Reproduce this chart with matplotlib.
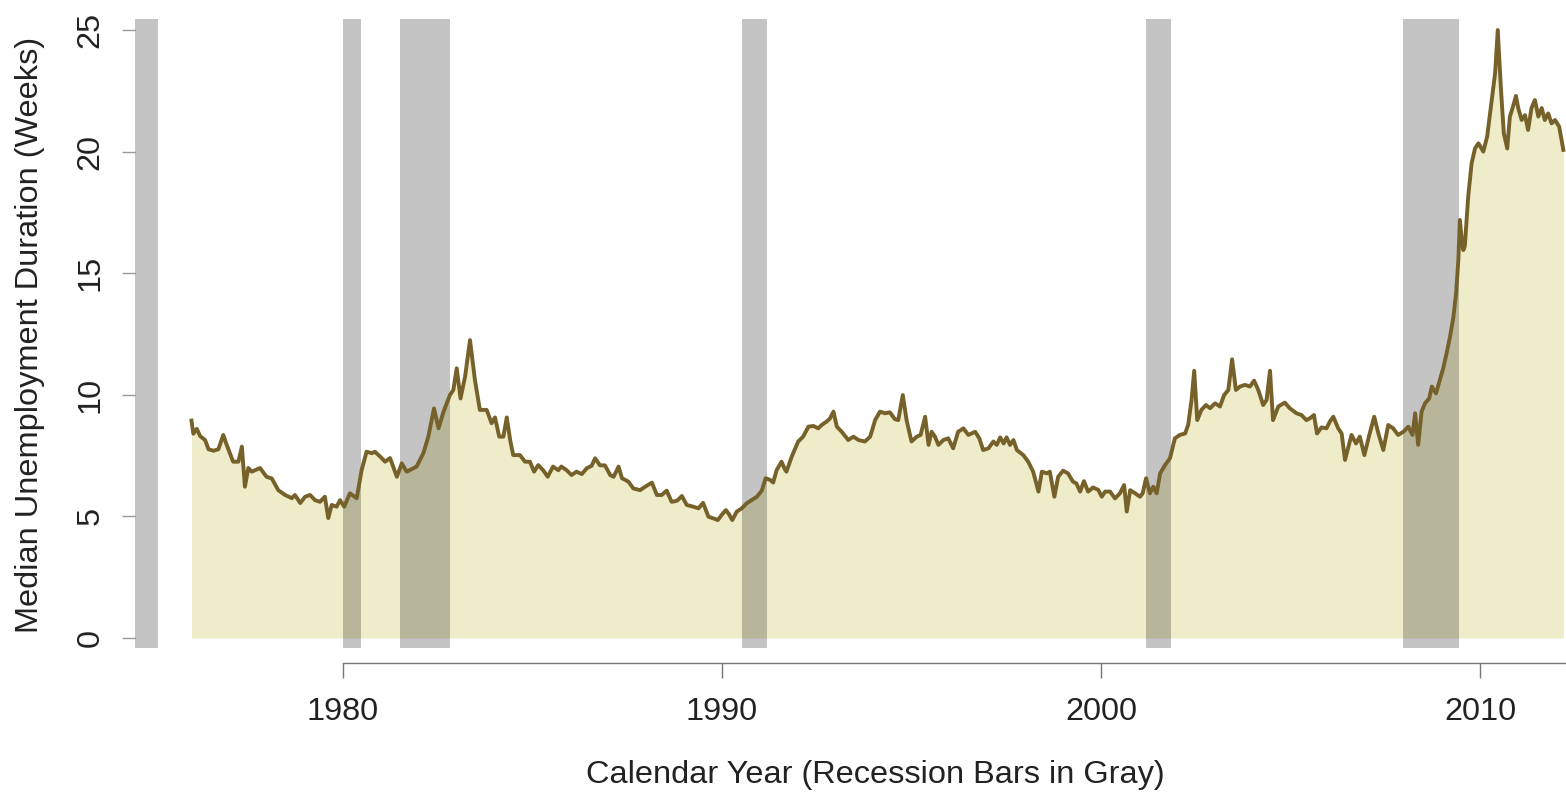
import numpy as np
import matplotlib.pyplot as plt

plt.rcParams['font.family'] = ['Liberation Sans', 'DejaVu Sans']

# median weeks of unemployment, read at irregular dates (decimal years)
years = [
    1976.00, 1976.05, 1976.14, 1976.23, 1976.36, 1976.45, 1976.58, 1976.71, 1976.84, 1976.93,
    1977.10, 1977.24, 1977.33, 1977.41, 1977.50, 1977.59, 1977.81, 1977.98, 1978.12, 1978.29,
    1978.47, 1978.65, 1978.73, 1978.87, 1979.00, 1979.13, 1979.26, 1979.39, 1979.52, 1979.61,
    1979.70, 1979.83, 1979.92, 1980.03, 1980.18, 1980.36, 1980.49, 1980.62, 1980.76, 1980.84,
    1980.98, 1981.11, 1981.24, 1981.42, 1981.55, 1981.68,
    1981.94, 1982.12, 1982.25, 1982.40, 1982.52, 1982.65, 1982.82, 1982.91, 1983.00, 1983.10,
    1983.22, 1983.35, 1983.48, 1983.61, 1983.79, 1983.92, 1984.01, 1984.12, 1984.23, 1984.32,
    1984.41, 1984.49, 1984.67, 1984.80, 1984.93, 1985.04, 1985.15, 1985.28, 1985.40, 1985.54,
    1985.68, 1985.76, 1985.90, 1986.03, 1986.16, 1986.30, 1986.43, 1986.56, 1986.65, 1986.78,
    1986.91, 1987.05, 1987.14, 1987.27, 1987.36, 1987.53, 1987.66,
    1987.84, 1987.97, 1988.15, 1988.28, 1988.41, 1988.54, 1988.67, 1988.81, 1988.94, 1989.07,
    1989.24, 1989.38, 1989.50, 1989.64, 1989.77, 1989.89, 1989.99, 1990.10, 1990.18, 1990.27,
    1990.39, 1990.52, 1990.65, 1990.78, 1990.92, 1991.05, 1991.15, 1991.27, 1991.35, 1991.44,
    1991.57, 1991.66, 1991.70, 1991.84, 1992.01, 1992.14, 1992.28, 1992.41, 1992.54, 1992.63,
    1992.76, 1992.85, 1992.94, 1993.03, 1993.16, 1993.33, 1993.47, 1993.60,
    1993.77, 1993.91, 1994.04, 1994.17, 1994.30, 1994.43, 1994.56, 1994.65, 1994.77, 1994.87,
    1995.00, 1995.14, 1995.24, 1995.36, 1995.45, 1995.53, 1995.62, 1995.71, 1995.84, 1995.97,
    1996.10, 1996.23, 1996.37, 1996.50, 1996.68, 1996.79, 1996.89, 1997.03, 1997.16, 1997.25,
    1997.34, 1997.43, 1997.51, 1997.60, 1997.69, 1997.78, 1997.95, 1998.08, 1998.21, 1998.35,
    1998.44, 1998.57, 1998.65, 1998.77, 1998.87, 1999.00, 1999.13, 1999.26, 1999.35, 1999.45,
    1999.55, 1999.66, 1999.79, 1999.93, 2000.02,
    2000.11, 2000.24, 2000.37, 2000.50, 2000.61, 2000.68, 2000.77, 2000.90, 2001.03, 2001.10,
    2001.19, 2001.29, 2001.38, 2001.47, 2001.56, 2001.69, 2001.82, 2001.95, 2002.08, 2002.22,
    2002.30, 2002.39, 2002.46, 2002.54, 2002.65, 2002.77, 2002.88, 2003.01, 2003.14, 2003.25,
    2003.36, 2003.46, 2003.56, 2003.67, 2003.80, 2003.93, 2004.04, 2004.15, 2004.28, 2004.37,
    2004.46, 2004.54, 2004.68, 2004.85, 2004.98, 2005.16, 2005.29, 2005.42, 2005.51, 2005.62,
    2005.70, 2005.82, 2005.95,
    2006.04, 2006.13, 2006.26, 2006.35, 2006.44, 2006.53, 2006.61, 2006.73, 2006.83, 2006.95,
    2007.08, 2007.21, 2007.32, 2007.45, 2007.58, 2007.71, 2007.84, 2007.98, 2008.11, 2008.22,
    2008.29, 2008.37, 2008.46, 2008.55, 2008.66, 2008.73, 2008.84, 2008.94, 2009.03, 2009.12,
    2009.21, 2009.30, 2009.37, 2009.43, 2009.47, 2009.52, 2009.56, 2009.60, 2009.69, 2009.78,
    2009.87, 2009.96, 2010.09, 2010.19, 2010.31, 2010.40, 2010.47, 2010.55, 2010.63, 2010.72,
    2010.79, 2010.86, 2010.95, 2011.01, 2011.10, 2011.19, 2011.27, 2011.36, 2011.45, 2011.54,
    2011.63, 2011.71, 2011.80, 2011.89, 2011.98, 2012.09, 2012.20,
]
weeks = [
    8.94, 8.40, 8.60, 8.30, 8.14, 7.76, 7.70, 7.76, 8.35, 7.94,
    7.25, 7.25, 7.87, 6.22, 6.99, 6.84, 6.99, 6.63, 6.56, 6.08,
    5.88, 5.75, 5.88, 5.55, 5.81, 5.88, 5.67, 5.60, 5.81, 4.93,
    5.47, 5.40, 5.67, 5.40, 5.95, 5.75, 6.90, 7.66, 7.60, 7.66,
    7.46, 7.25, 7.40, 6.63, 7.18, 6.84,
    7.05, 7.60, 8.28, 9.44, 8.62, 9.30, 9.99, 10.20, 11.09, 9.85,
    10.75, 12.25, 10.61, 9.38, 9.38, 8.83, 9.07, 8.28, 8.28, 9.07,
    8.14, 7.52, 7.52, 7.25, 7.25, 6.84, 7.11, 6.90, 6.63, 7.05,
    6.90, 7.05, 6.90, 6.70, 6.84, 6.74, 6.98, 7.08, 7.39, 7.10,
    7.10, 6.70, 6.63, 7.05, 6.57, 6.43, 6.15,
    6.08, 6.22, 6.39, 5.88, 5.88, 6.06, 5.60, 5.64, 5.84, 5.47,
    5.40, 5.33, 5.56, 4.99, 4.92, 4.85, 5.06, 5.26, 5.10, 4.85,
    5.20, 5.33, 5.54, 5.67, 5.81, 6.06, 6.57, 6.50, 6.39, 6.90,
    7.25, 6.93, 6.84, 7.46, 8.08, 8.28, 8.69, 8.72, 8.62, 8.76,
    8.90, 9.03, 9.31, 8.69, 8.48, 8.14, 8.28, 8.14,
    8.08, 8.28, 8.96, 9.31, 9.24, 9.28, 9.00, 8.96, 9.99, 8.96,
    8.08, 8.28, 8.35, 9.10, 7.94, 8.48, 8.28, 7.94, 8.14, 8.21,
    7.80, 8.48, 8.62, 8.35, 8.48, 8.21, 7.73, 7.80, 8.08, 7.94,
    8.25, 8.00, 8.25, 7.94, 8.14, 7.73, 7.52, 7.25, 6.84, 6.02,
    6.84, 6.77, 6.84, 5.81, 6.63, 6.88, 6.77, 6.43, 6.36, 6.02,
    6.45, 6.02, 6.19, 6.09, 5.81,
    6.02, 6.02, 5.74, 5.95, 6.29, 5.20, 6.08, 5.95, 5.81, 5.95,
    6.57, 5.95, 6.22, 5.95, 6.77, 7.11, 7.39, 8.21, 8.35, 8.41,
    8.76, 9.79, 10.99, 8.96, 9.38, 9.58, 9.45, 9.65, 9.52, 9.99,
    10.20, 11.46, 10.20, 10.34, 10.41, 10.34, 10.58, 10.20, 9.58, 9.79,
    10.99, 8.96, 9.52, 9.68, 9.45, 9.24, 9.17, 8.96, 9.03, 9.17,
    8.41, 8.66, 8.62,
    8.90, 9.10, 8.62, 8.41, 7.32, 7.87, 8.35, 8.00, 8.28, 7.52,
    8.35, 9.10, 8.41, 7.73, 8.76, 8.62, 8.35, 8.48, 8.69, 8.35,
    9.24, 7.94, 9.31, 9.65, 9.85, 10.34, 10.06, 10.61, 11.09, 11.71,
    12.39, 13.21, 14.17, 15.54, 17.19, 16.37, 15.95, 16.10, 18.15, 19.52,
    20.13, 20.34, 20.00, 20.62, 22.12, 23.22, 25.00, 22.67, 20.75, 20.13,
    21.44, 21.79, 22.29, 21.79, 21.30, 21.50, 20.89, 21.79, 22.12, 21.44,
    21.79, 21.30, 21.57, 21.16, 21.30, 21.03, 20.07,
]

# NBER recessions (start, end)
rec_start = [1973.83, 1980.00, 1981.50, 1990.53, 2001.19, 2007.97]
rec_end = [1975.12, 1980.47, 1982.82, 1991.19, 2001.85, 2009.45]

W, H = 1566, 793
fig = plt.figure(figsize=(W / 100, H / 100), dpi=100)
# plot region runs a little past the right edge of the canvas
ax = fig.add_axes([135 / W, 1 - 663.3 / H, (1616 - 135) / W, (663.3 - 5.7) / H])

ax.fill_between(years, 0, weeks, color='#EFECC9', lw=0, zorder=1)
for a, b in zip(rec_start, rec_end):
    ax.fill_between([a, b], -0.41, 25.45, color='black', alpha=0.23, lw=0, zorder=2)
ax.plot(years, weeks, color='#76612A', lw=2.8, solid_joinstyle='round', zorder=3)

ax.set_xlim(1974.51, 2013.59)
ax.set_ylim(-1.04, 26.0)

for s in ['left', 'top', 'right']:
    ax.spines[s].set_visible(False)
ax.spines['bottom'].set_color('#777777')
ax.spines['bottom'].set_linewidth(1.0)
ax.spines['bottom'].set_bounds(1980, 2013.59)

ax.set_xticks([1980, 1990, 2000, 2010])
ax.set_yticks([0, 5, 10, 15, 20, 25])
ax.tick_params(axis='x', direction='out', length=10.8, width=1.0, color='#777777',
               labelsize=23.4, labelcolor='#222222', pad=13.5)
ax.tick_params(axis='y', direction='out', length=9.4, width=1.0, color='#999999',
               labelsize=23.4, labelcolor='#222222', pad=12, labelrotation=90)
for lab in ax.get_yticklabels():
    lab.set_va('center')

ax.set_xlabel('Calendar Year (Recession Bars in Gray)', fontsize=23.4, color='#222222', labelpad=24)
ax.set_ylabel('Median Unemployment Duration (Weeks)', fontsize=23.4, color='#222222', labelpad=22)

fig.savefig('out.png', dpi=100)
